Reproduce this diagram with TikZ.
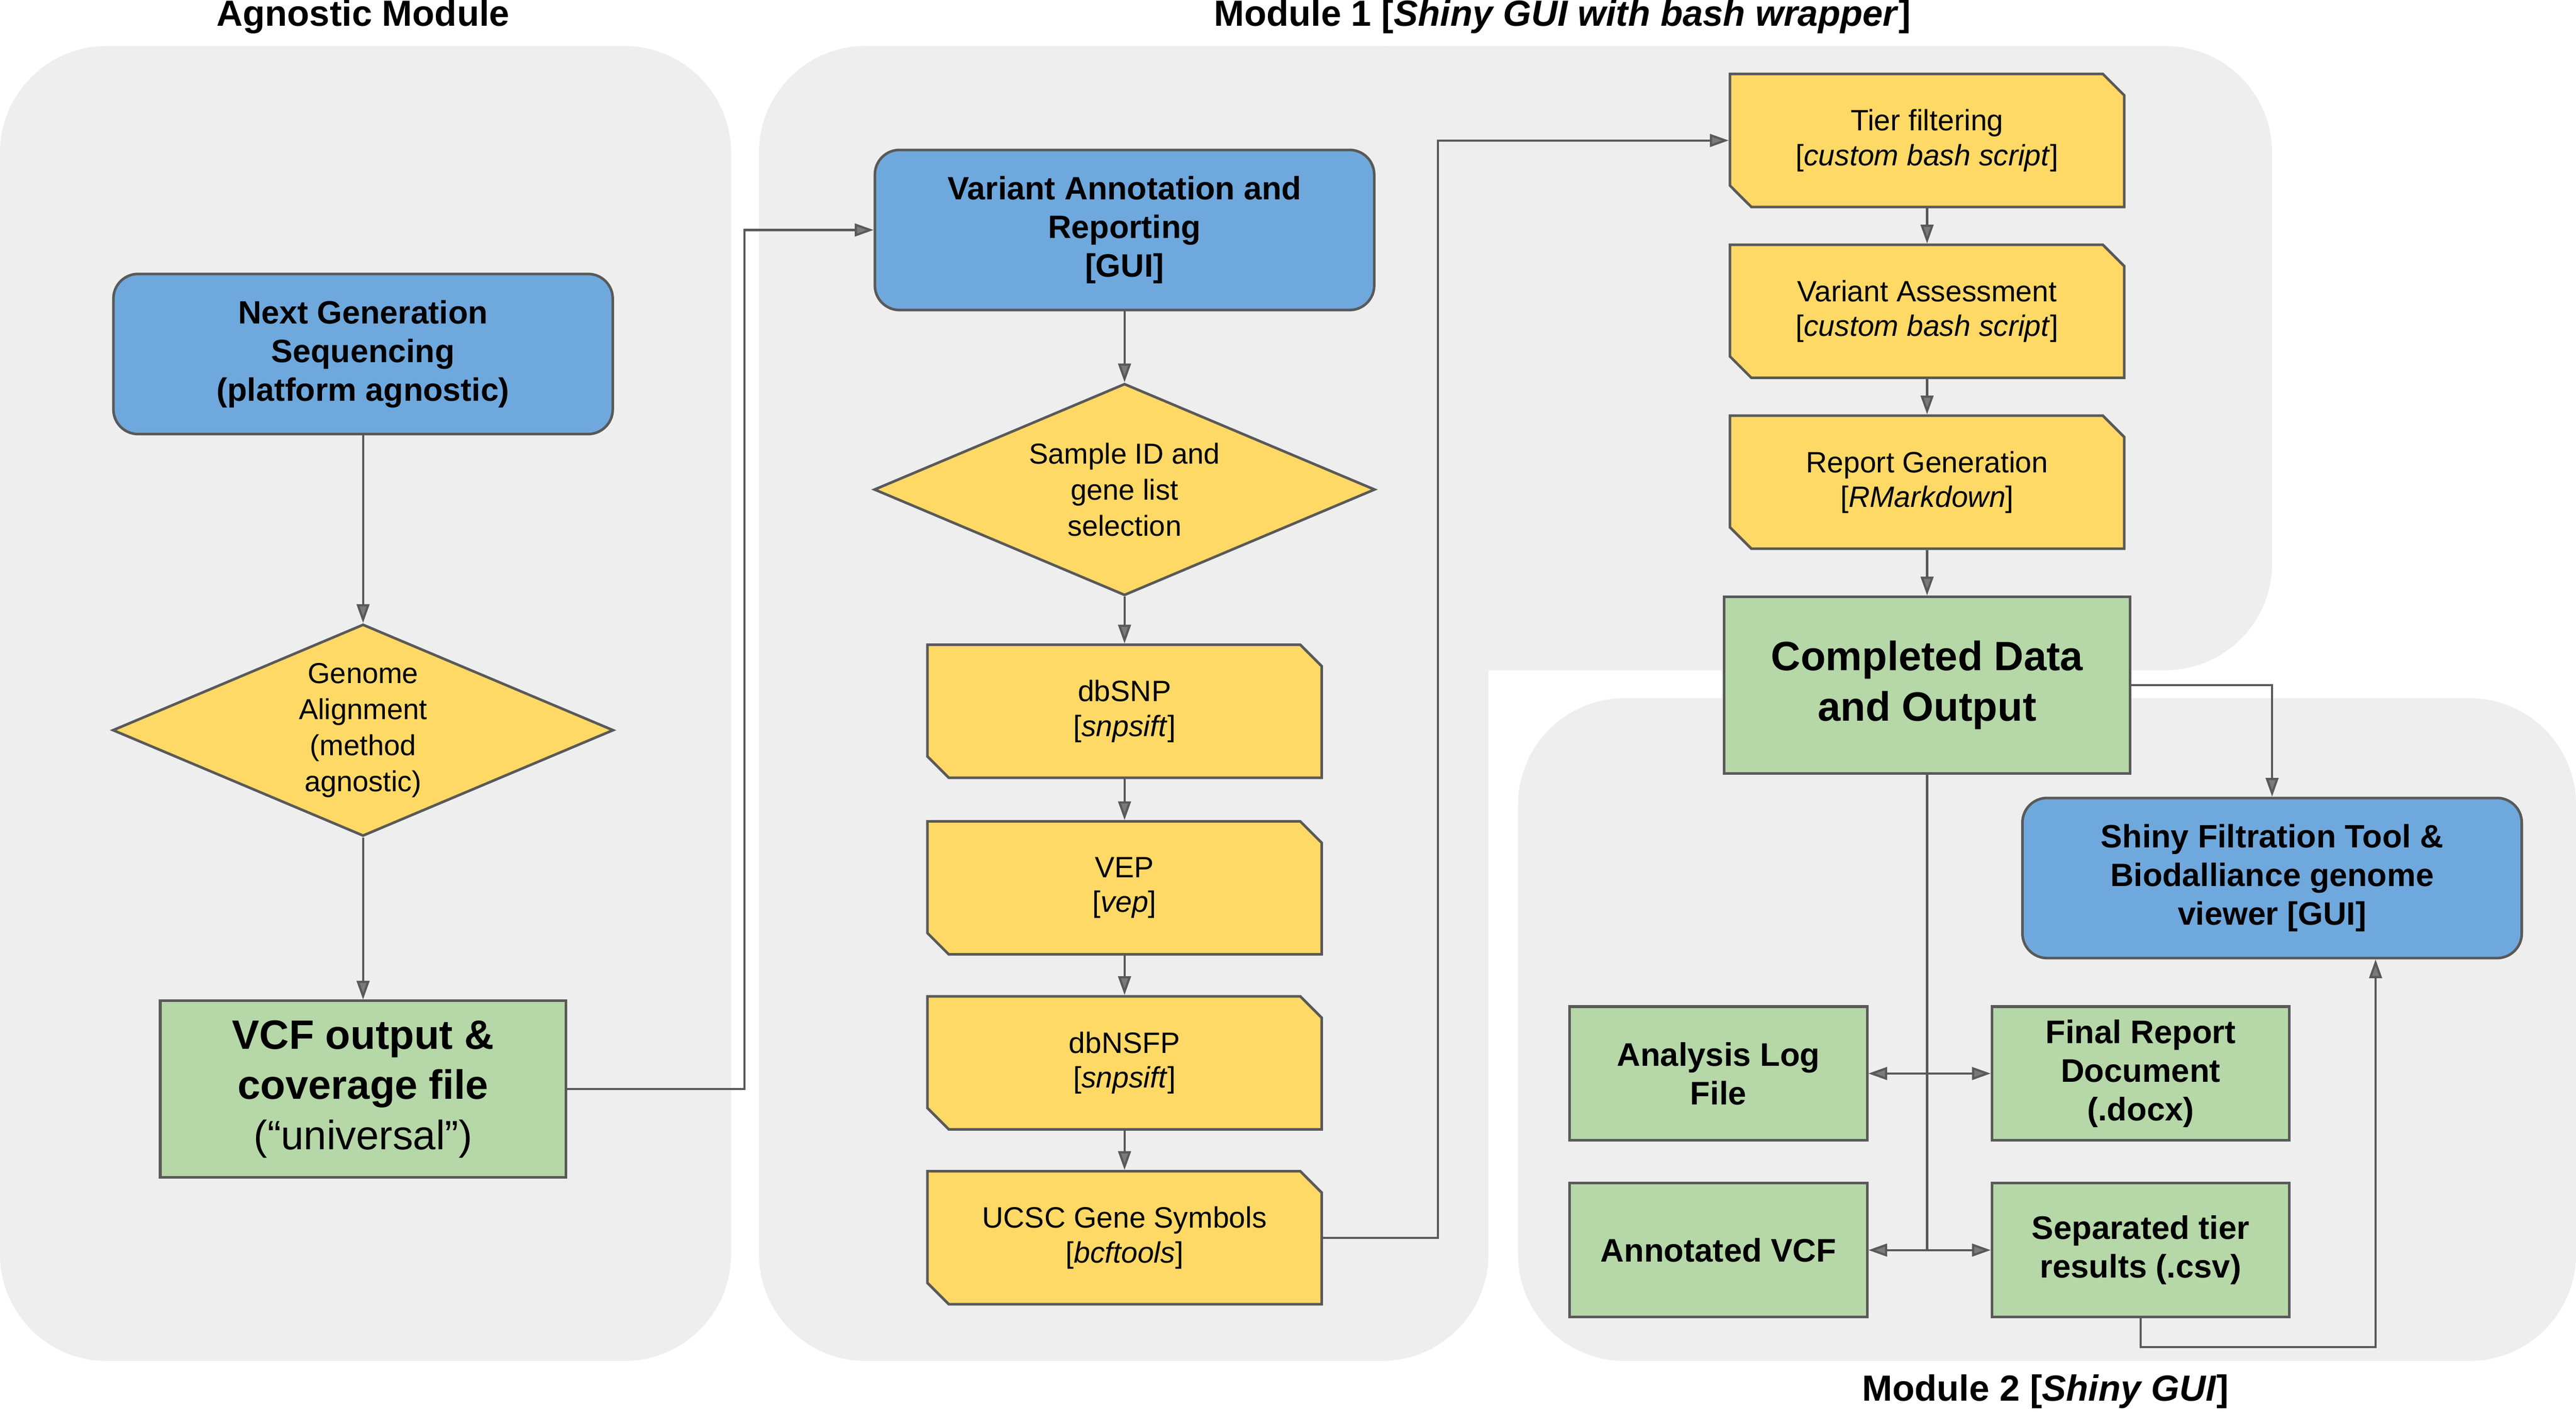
\documentclass[tikz,border=0pt]{standalone}
\usepackage{fontspec}
\setmainfont{Liberation Sans}
\usetikzlibrary{shapes.geometric, shapes.misc, arrows.meta, positioning}

\definecolor{bggray}{HTML}{EEEEEE}
\definecolor{edgegray}{HTML}{595959}
\definecolor{gblue}{HTML}{6FA8DC}
\definecolor{gyellow}{HTML}{FFD966}
\definecolor{ggreen}{HTML}{B6D7A8}

\tikzset{
  modulebg/.style={fill=bggray, rounded corners=1.3cm},
  titletext/.style={font=\fontsize{12.6}{15}\selectfont\bfseries},
  guibox/.style={draw=edgegray, line width=0.9pt, fill=gblue, rounded corners=0.3cm,
    minimum width=6.08cm, minimum height=1.95cm, align=center,
    font=\fontsize{11.2}{13.4}\selectfont\bfseries},
  choicebox/.style={diamond, draw=edgegray, line width=0.9pt, fill=gyellow,
    minimum width=6.1cm, minimum height=2.58cm, shape aspect=2.36, inner sep=0pt,
    align=center, font=\fontsize{10}{12.5}\selectfont},
  toolbox/.style={chamfered rectangle, chamfered rectangle corners={north east, south west},
    chamfered rectangle xsep=0.13cm, chamfered rectangle ysep=0.13cm,
    draw=edgegray, line width=0.9pt, fill=gyellow, minimum width=4.8cm, minimum height=1.62cm,
    inner sep=0pt, align=center, font=\fontsize{10.2}{12}\selectfont},
  resultbox/.style={draw=edgegray, line width=0.9pt, fill=ggreen,
    minimum width=4.94cm, minimum height=2.15cm, align=center,
    font=\fontsize{14.2}{17.4}\selectfont\bfseries},
  outbox/.style={draw=edgegray, line width=0.9pt, fill=ggreen,
    minimum width=3.62cm, minimum height=1.63cm, align=center,
    font=\fontsize{11.3}{13.4}\selectfont\bfseries},
  link/.style={draw=edgegray, line width=0.75pt},
  arr/.style={link, -{Triangle[length=6.5pt, width=4.4pt, fill=edgegray!80]}},
  dbl/.style={link, {Triangle[length=6.5pt, width=4.4pt, fill=edgegray!80]}-{Triangle[length=6.5pt, width=4.4pt, fill=edgegray!80]}},
}

\begin{document}
\begin{tikzpicture}[x=0.02cm, y=-0.02cm]
\fill [white] (0,0) rectangle (1568,859.4);
\useasboundingbox (0,0) rectangle (1568,859.4);
\fill [modulebg] (0,28) rectangle (445,828.5);
\fill [modulebg] (462,28) rectangle (1383,408);
\fill [modulebg] (462,28) rectangle (906,828.5);
\fill [modulebg] (924,425) rectangle (1568,828.5);

\node (agt) at (221,10) [titletext] {Agnostic Module};
\node (m1t) at (951,10) [titletext] {Module 1 [\textit{Shiny GUI with bash wrapper}]};
\node (m2t) at (1245,847) [titletext] {Module 2 [\textit{Shiny GUI}]};

\node (ngs) at (221,215.5) [guibox] {Next Generation\\Sequencing\\(platform agnostic)};
\node (align) at (221,444.5) [choicebox] {Genome\\Alignment\\(method\\agnostic)};
\node (vcf) at (221,663) [resultbox] {VCF output \&\\coverage file\\{\mdseries(“universal”)}};

\node (varann) at (684.5,140) [guibox] {Variant Annotation and\\Reporting\\{}[GUI]};
\node (sample) at (684.5,298) [choicebox] {Sample ID and\\gene list\\selection};
\node (dbsnp) at (684.5,433) [toolbox] {dbSNP\\{}[\textit{snpsift}]};
\node (vep) at (684.5,540.5) [toolbox] {VEP\\{}[\textit{vep}]};
\node (dbnsfp) at (684.5,647) [toolbox] {dbNSFP\\{}[\textit{snpsift}]};
\node (ucsc) at (684.5,753.5) [toolbox] {UCSC Gene Symbols\\{}[\textit{bcftools}]};

\node (tier) at (1173,85.5) [toolbox] {Tier filtering\\{}[\textit{custom bash script}]};
\node (assess) at (1173,189.5) [toolbox] {Variant Assessment\\{}[\textit{custom bash script}]};
\node (report) at (1173,293.5) [toolbox] {Report Generation\\{}[\textit{RMarkdown}]};
\node (done) at (1173,417) [resultbox] {Completed Data\\and Output};

\node (shiny) at (1383,534.5) [guibox] {Shiny Filtration Tool \&\\Biodalliance genome\\viewer [GUI]};
\node (log) at (1046,653.5) [outbox] {Analysis Log\\File};
\node (final) at (1303,653.5) [outbox] {Final Report\\Document\\(.docx)};
\node (annot) at (1046,761) [outbox] {Annotated VCF};
\node (sep) at (1303,761) [outbox] {Separated tier\\results (.csv)};

\draw [arr] (ngs.south) -- (align.north);
\draw [arr] (align.south) -- (vcf.north);
\draw [arr] (vcf.east) -- ++(108,0) |- (varann.west);
\draw [arr] (varann.south) -- (sample.north);
\draw [arr] (sample.south) -- (dbsnp.north);
\draw [arr] (dbsnp.south) -- (vep.north);
\draw [arr] (vep.south) -- (dbnsfp.north);
\draw [arr] (dbnsfp.south) -- (ucsc.north);
\draw [arr] (ucsc.east) -- ++(70,0) |- (tier.west);
\draw [arr] (tier.south) -- (assess.north);
\draw [arr] (assess.south) -- (report.north);
\draw [arr] (report.south) -- (done.north);
\draw [arr] (done.east) -| (shiny.north);
\draw [link] (done.south) -- (done.south |- annot.east);
\draw [dbl] (log.east) -- (final.west);
\draw [dbl] (annot.east) -- (sep.west);
\draw [arr] (sep.south) -- ++(0,17.5) -| ([xshift=1.26cm]shiny.south);
\end{tikzpicture}
\end{document}
